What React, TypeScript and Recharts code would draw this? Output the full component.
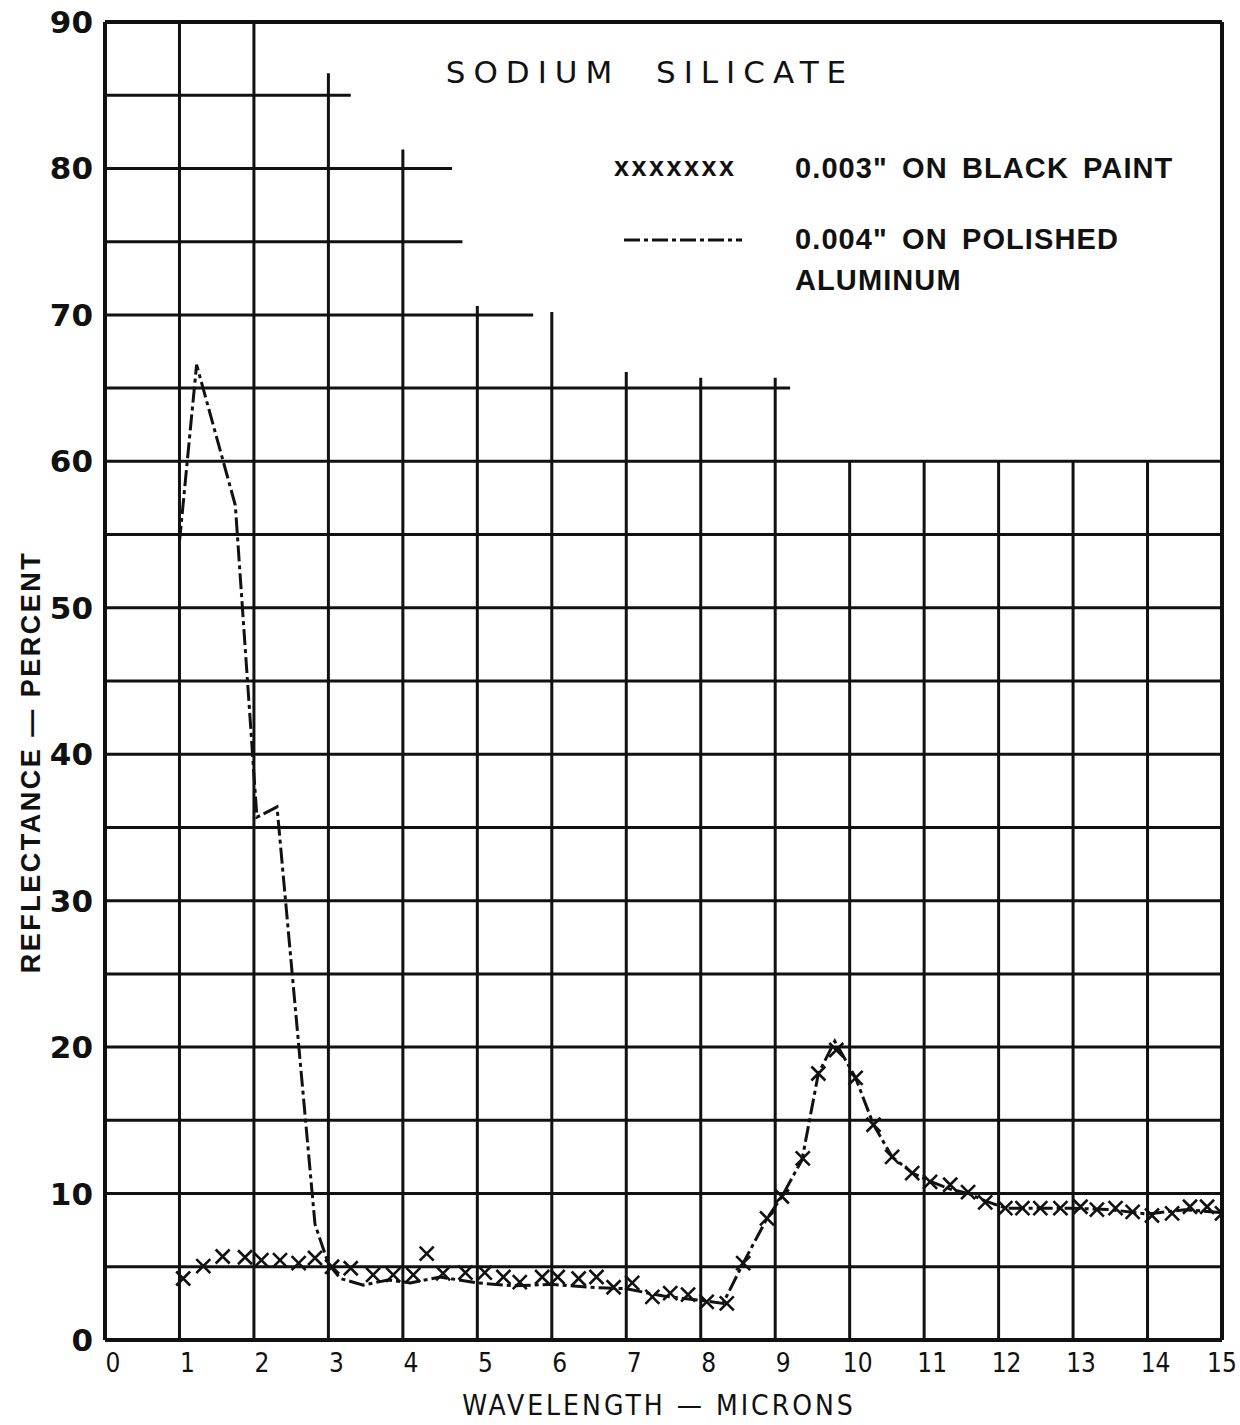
import React from "react"
import { ComposedChart, Line, Scatter, XAxis, YAxis, ReferenceLine } from "recharts"

// 0.004" on polished aluminum (dash-dot curve)
const alumX = [1.0, 1.23, 1.75, 2.04, 2.31, 2.82, 3.0, 3.16, 3.47, 3.8, 4.1, 4.5, 5.0, 5.5, 6.0, 6.5, 7.0, 7.5, 8.0, 8.3, 8.57, 8.89, 9.09, 9.36, 9.58, 9.8, 10.08, 10.32, 10.57, 10.84, 11.1, 11.35, 11.6, 11.82, 12.1, 12.5, 13.0, 13.5, 14.0, 14.5, 15.0]
const alumY = [54.5, 66.6, 57.0, 35.7, 36.4, 7.9, 5.2, 4.2, 3.75, 4.1, 3.9, 4.3, 3.9, 3.7, 3.8, 3.6, 3.5, 3.0, 2.7, 2.5, 5.25, 8.3, 9.8, 12.3, 18.2, 20.4, 17.9, 14.7, 12.5, 11.4, 10.8, 10.3, 10.0, 9.5, 9.0, 9.0, 9.0, 8.9, 8.6, 8.9, 8.7]

// 0.003" on black paint (x marks)
const paintX = [1.05, 1.32, 1.58, 1.88, 2.1, 2.35, 2.6, 2.82, 3.05, 3.3, 3.6, 3.87, 4.14, 4.32, 4.54, 4.84, 5.1, 5.35, 5.57, 5.87, 6.08, 6.36, 6.6, 6.83, 7.08, 7.35, 7.59, 7.83, 8.08, 8.35, 8.57, 8.89, 9.09, 9.37, 9.58, 9.82, 10.08, 10.32, 10.57, 10.84, 11.08, 11.35, 11.59, 11.82, 12.09, 12.32, 12.56, 12.83, 13.1, 13.32, 13.57, 13.8, 14.06, 14.33, 14.57, 14.8, 15.0]
const paintY = [4.2, 5.05, 5.7, 5.65, 5.45, 5.45, 5.25, 5.6, 5.0, 4.9, 4.45, 4.45, 4.45, 5.9, 4.55, 4.6, 4.6, 4.3, 3.95, 4.3, 4.3, 4.2, 4.3, 3.6, 3.9, 2.95, 3.2, 3.1, 2.6, 2.5, 5.25, 8.3, 9.8, 12.4, 18.2, 19.8, 17.9, 14.7, 12.5, 11.4, 10.8, 10.6, 10.1, 9.4, 9.0, 9.0, 9.0, 9.0, 9.1, 8.9, 9.0, 8.75, 8.5, 8.65, 9.1, 9.1, 8.65]

const xTicks = [0, 1, 2, 3, 4, 5, 6, 7, 8, 9, 10, 11, 12, 13, 14, 15]
const yTicks = [0, 10, 20, 30, 40, 50, 60, 70, 80, 90]

// graph paper: horizontal lines (value, right end) and vertical lines (value, top end)
const hGrid = [
  [5, 15], [10, 15], [15, 15], [20, 15], [25, 15], [30, 15], [35, 15], [40, 15], [45, 15], [50, 15], [55, 15], [60, 15],
  [65, 9.2], [70, 5.75], [75, 4.8], [80, 4.66], [85, 3.3], [90, 15],
]
const vGrid = [
  [1, 90], [2, 90], [3, 86.5], [4, 81.3], [5, 70.6], [6, 70.2], [7, 66.1], [8, 65.7], [9, 65.7],
  [10, 60], [11, 60], [12, 60], [13, 60], [14, 60], [15, 90],
]

const alumData = alumX.map((x, i) => ({ x, y: alumY[i] }))
const paintData = paintX.map((x, i) => ({ x, y: paintY[i] }))

const DASH = "16 4 4 4"

function XMark(props: any) {
  const { cx, cy } = props
  const s = 7
  return (
    <path
      d={`M${cx - s},${cy - s}L${cx + s},${cy + s}M${cx - s},${cy + s}L${cx + s},${cy - s}`}
      stroke="#111"
      strokeWidth={2.6}
      fill="none"
    />
  )
}

function XTick(props: any) {
  const { x, y, payload } = props
  const dx = payload.value === 15 ? 0 : 8
  return (
    <text x={x + dx} y={y + 24} textAnchor="middle" fontSize={26} fill="#111"
      fontFamily="'DejaVu Sans Condensed', 'DejaVu Sans', sans-serif">
      {payload.value}
    </text>
  )
}

function YTick(props: any) {
  const { x, y, payload } = props
  return (
    <text x={x - 4} y={y + 11} textAnchor="end" fontSize={31} fontWeight="bold" fill="#111"
      fontFamily="'DejaVu Sans', sans-serif">
      {payload.value}
    </text>
  )
}

function LegendBox() {
  const txt: React.CSSProperties = {
    position: "absolute", left: 795, fontFamily: "'Liberation Sans', Arial, sans-serif",
    fontWeight: "bold", fontSize: 29, color: "#111", whiteSpace: "nowrap", wordSpacing: 5, letterSpacing: 1.1,
  }
  return (
    <div style={{ position: "absolute", left: 0, top: 0, width: 1240, height: 300, pointerEvents: "none" }}>
      <div style={{ ...txt, left: 614, top: 152, fontSize: 27, letterSpacing: 2.5 }}>xxxxxxx</div>
      <div style={{ ...txt, top: 152 }}>0.003" ON BLACK PAINT</div>
      <svg style={{ position: "absolute", left: 620, top: 232 }} width={130} height={16}>
        <line x1={4} y1={8} x2={122} y2={8} stroke="#111" strokeWidth={3} strokeDasharray={DASH} />
      </svg>
      <div style={{ ...txt, top: 223 }}>0.004" ON POLISHED</div>
      <div style={{ ...txt, top: 264 }}>ALUMINUM</div>
    </div>
  )
}

export default function App() {
  return (
    <div style={{ position: "absolute", left: 0, top: 0, width: 1240, height: 1425, background: "#fff" }}>
      <ComposedChart width={1240} height={1425} margin={{ top: 22, right: 18, bottom: 0, left: 0 }}>
        <XAxis
          type="number"
          dataKey="x"
          domain={[0, 15]}
          ticks={xTicks}
          interval={0}
          tickLine={false}
          axisLine={{ stroke: "#111", strokeWidth: 4 }}
          tick={<XTick />}
          height={85}
          allowDataOverflow
          label={{
            content: () => (
              <text x={659} y={1415} textAnchor="middle" fontSize={28} fill="#111" letterSpacing={3}
                fontFamily="'DejaVu Sans Condensed', 'DejaVu Sans', sans-serif">
                WAVELENGTH — MICRONS
              </text>
            ),
          }}
        />
        <YAxis
          type="number"
          dataKey="y"
          domain={[0, 90]}
          ticks={yTicks}
          interval={0}
          tickLine={false}
          axisLine={{ stroke: "#111", strokeWidth: 4 }}
          tick={<YTick />}
          width={105}
          allowDataOverflow
          label={{
            content: () => (
              <text x={40} y={762} transform="rotate(-90 40 762)" textAnchor="middle" fontSize={27}
                fontWeight="bold" letterSpacing={2.5} fill="#111" fontFamily="'Liberation Sans', Arial, sans-serif">
                REFLECTANCE — PERCENT
              </text>
            ),
          }}
        />
        {hGrid.map(([y, x2]) => (
          <ReferenceLine key={"h" + y} segment={[{ x: 0, y }, { x: x2, y }]} stroke="#111" strokeWidth={y === 90 ? 4 : 3} ifOverflow="visible" />
        ))}
        {vGrid.map(([x, y2]) => (
          <ReferenceLine key={"v" + x} segment={[{ x, y: 0 }, { x, y: y2 }]} stroke="#111" strokeWidth={x === 15 ? 4 : 3} ifOverflow="visible" />
        ))}
        <Line
          data={alumData}
          dataKey="y"
          type="linear"
          stroke="#111"
          strokeWidth={3}
          strokeDasharray={DASH}
          dot={false}
          isAnimationActive={false}
          legendType="none"
        />
        <Scatter data={paintData} dataKey="y" shape={<XMark />} isAnimationActive={false} legendType="none" />
      </ComposedChart>
      <div style={{
        position: "absolute", left: 0, width: 1240, top: 54, textAlign: "center", paddingLeft: 60,
        boxSizing: "border-box", fontFamily: "'DejaVu Sans', sans-serif", fontSize: 31,
        letterSpacing: 8, color: "#111", whiteSpace: "pre",
      }}>
        SODIUM  SILICATE
      </div>
      <LegendBox />
    </div>
  )
}
